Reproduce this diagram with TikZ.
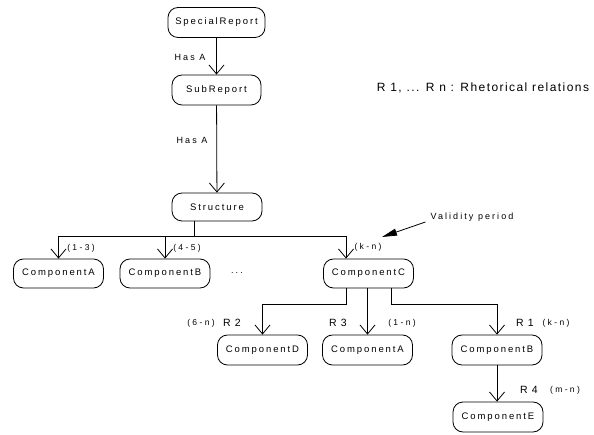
\documentclass[tikz,border=0pt]{standalone}
\usepackage{fontspec}
\setmainfont{Liberation Sans}
\newfontfamily\lsn[LetterSpace=20]{Liberation Sans}
\newfontfamily\lss[LetterSpace=28]{Liberation Sans}
\newfontfamily\lsh[LetterSpace=23]{Liberation Sans}
\newfontfamily\lsr[LetterSpace=12]{Liberation Sans}
\usetikzlibrary{arrows.meta,calc}
\begin{document}
\begin{tikzpicture}[x=1pt,y=-1pt,
 box/.style={draw, line width=0.8pt, rounded corners=10pt, minimum width=90pt, minimum height=29pt, inner sep=0pt, font=\lsn\fontsize{9.5}{11}\selectfont},
 arr/.style={line width=0.8pt, -{Straight Barb[length=9pt,width=15pt]}},
 ln/.style={line width=0.8pt},
 lbl/.style={inner sep=0pt, font=\lss\fontsize{8.5}{10}\selectfont},
 rel/.style={inner sep=0pt, font=\lsr\fontsize{10.5}{12}\selectfont},
 has/.style={inner sep=0pt, font=\lsh\fontsize{9}{10}\selectfont}]
\useasboundingbox (0,0) rectangle (594,435);
% nodes
\node[box, minimum width=97pt, minimum height=30pt] (sr) at (216.5,22.5) {SpecialReport};
\node[box, minimum width=89pt, minimum height=30pt] (sub) at (216.5,90) {SubReport};
\node[box, minimum height=28pt] (st) at (217,207) {Structure};
\node[box] (ca) at (58.5,273.5) {ComponentA};
\node[box] (cb) at (165,273.5) {ComponentB};
\node[box] (cc) at (368.5,273.5) {ComponentC};
\node[box, minimum height=30pt] (cd) at (262.5,350) {ComponentD};
\node[box, minimum height=30pt] (ca2) at (367.5,350) {ComponentA};
\node[box, minimum height=30pt] (cb2) at (497,350) {ComponentB};
\node[box, minimum height=30pt] (ce) at (498,417) {ComponentE};
% labels
\node[has] (h1) at (190,57) {Has A};
\node[has] (h2) at (192,140) {Has A};
\node[lbl] (l13) at (81,248) {(1-3)};
\node[lbl] (l45) at (187,248) {(4-5)};
\node[has] (dots) at (237,273) {...};
\node[lbl] (lkn) at (368,247) {(k-n)};
\node[has] (vp) at (472,217) {Validity period};
\node[lbl] (l6n) at (201,323) {(6-n)};
\node[rel] (r2) at (232,323) {R 2};
\node[rel] (r3) at (338,323) {R 3};
\node[lbl] (l1n) at (402,323) {(1-n)};
\node[rel] (r1) at (525,323) {R 1};
\node[lbl] (lkn2) at (556,323) {(k-n)};
\node[rel] (r4) at (529,390) {R 4};
\node[lbl] (lmn) at (565,390) {(m-n)};
\node[inner sep=0pt, font=\lsr\fontsize{12}{14}\selectfont] (rr) at (483,88) {R 1, ... R n : Rhetorical relations};
% connectors
\draw[arr] (sr) -- (sub);
\draw[arr] (sub) -- (st);
\coordinate (j) at (194,236);
\draw[ln] (st.south -| j) -- (j);
\draw[arr] (j) -| (ca);
\draw[arr] (j) -| (cb);
\draw[arr] (j) -| ($(cc.north)+(-22.5,0)$);
\coordinate (jd) at (346,304);
\coordinate (jb) at (391,304);
\draw[arr] (cc.south -| jd) -- (jd) -| (cd);
\draw[arr] (cc.south -| ca2) -- (ca2);
\draw[arr] (cc.south -| jb) -- (jb) -| (cb2);
\draw[arr] (cb2.south -| 497,0) -- (ce.north -| 497,0);
\coordinate (vt) at (382,237);
\draw[line width=0.8pt, -{Triangle[length=15pt,width=7pt]}] ($(vp.west)+(-5,5)$) -- (vt);
\end{tikzpicture}
\end{document}
